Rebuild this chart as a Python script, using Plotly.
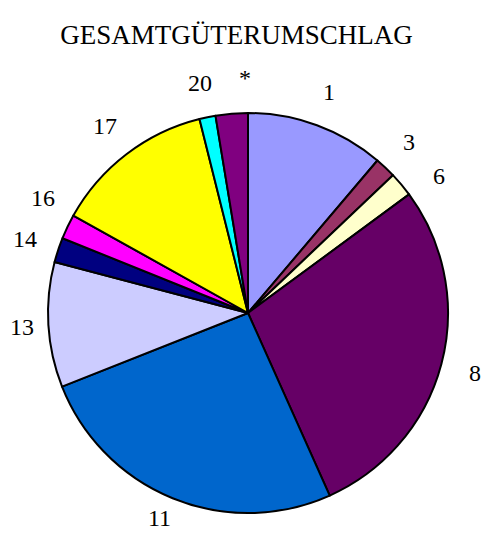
import math
import plotly.graph_objects as go

categories = ["1", "3", "6", "8", "11", "13", "14", "16", "17", "20", "*"]
shares = [11.2, 1.7, 2.0, 28.4, 25.7, 10.1, 2.0, 2.0, 13.0, 1.3, 2.6]
colors = ["#9999FF", "#993366", "#FFFFCC", "#660066", "#0066CC", "#CCCCFF",
          "#000080", "#FF00FF", "#FFFF00", "#00FFFF", "#800080"]
title_text = "GESAMTGÜTERUMSCHLAG"

# the page body has an 8px default margin, so the figure is laid out 8px smaller
W, H = 488, 526
ml, mr, mt, mb = 40, 48, 105, 21
dom_w = W - ml - mr
dom_h = H - mt - mb
FONT = "Liberation Serif, Times New Roman, serif"
LABEL_SIZE = 24

fig = go.Figure(go.Pie(
    labels=categories,
    values=shares,
    sort=False,
    direction="clockwise",
    rotation=0,
    textinfo="none",
    hoverinfo="label+percent",
    marker=dict(colors=colors, line=dict(color="#000000", width=2)),
    showlegend=False,
))

# label positions derived from slice mid-angles, spread so neighbours don't collide
total = sum(shares)
acc = 0.0
mids = []
for v in shares:
    mids.append((acc + v / 2) / total * 360.0)
    acc += v
min_gap = 11.0
angles = [mids[0]]
for m in mids[1:]:
    angles.append(max(m, angles[-1] + min_gap))

k = 1.175
R = min(dom_w, dom_h) / 2
cx = ml + dom_w / 2
cy = mt + dom_h / 2
annotations = []
for lab, a in zip(categories, angles):
    t = math.radians(a)
    px = cx + R * k * math.sin(t)
    py = cy - R * k * math.cos(t)
    half_w = 0.27 * LABEL_SIZE * len(lab) + 1
    half_h = 0.66 * LABEL_SIZE
    px = min(max(px, half_w), W - half_w)
    py = min(max(py, half_h), H - half_h)
    annotations.append(dict(
        x=(px - ml) / dom_w, y=1 - (py - mt) / dom_h,
        xref="paper", yref="paper", text=lab, showarrow=False,
        xanchor="center", yanchor="middle",
        font=dict(family=FONT, size=LABEL_SIZE, color="#000000"),
    ))

fig.update_layout(
    width=W, height=H,
    margin=dict(l=ml, r=mr, t=mt, b=mb),
    paper_bgcolor="#FFFFFF", plot_bgcolor="#FFFFFF",
    title=dict(text=title_text, x=228.5 / W, xref="container", xanchor="center",
               y=1 - 27 / H, yref="container", yanchor="middle",
               font=dict(family=FONT, size=27, color="#000000")),
    annotations=annotations,
)

fig.write_html("out.html")
